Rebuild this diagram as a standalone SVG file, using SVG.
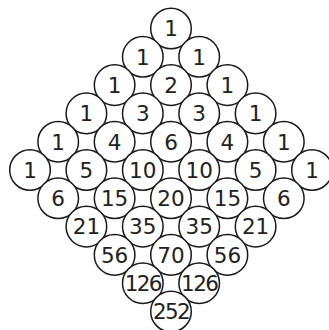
<svg xmlns="http://www.w3.org/2000/svg" width="329" height="330" viewBox="0 0 329 330">
<style>
.c{fill:#fff;stroke:#1a1a1a;stroke-width:1.5}
.t{font-family:"DejaVu Sans",sans-serif;font-size:21.5px;fill:#222;text-anchor:middle}
.w{letter-spacing:-1.6px}
</style>
<rect width="329" height="330" fill="#fff"/>
<g id="connectors"/>
<g id="n0-0"><circle class="c" cx="171" cy="28.5" r="20.3"/><text class="t" x="171" y="36.3">1</text></g>
<g id="n1-0"><circle class="c" cx="142.8" cy="56.8" r="20.3"/><text class="t" x="142.8" y="64.6">1</text></g>
<g id="n1-1"><circle class="c" cx="199.2" cy="56.8" r="20.3"/><text class="t" x="199.2" y="64.6">1</text></g>
<g id="n2-0"><circle class="c" cx="114.6" cy="85.1" r="20.3"/><text class="t" x="114.6" y="92.9">1</text></g>
<g id="n2-1"><circle class="c" cx="171" cy="85.1" r="20.3"/><text class="t" x="171" y="92.9">2</text></g>
<g id="n2-2"><circle class="c" cx="227.4" cy="85.1" r="20.3"/><text class="t" x="227.4" y="92.9">1</text></g>
<g id="n3-0"><circle class="c" cx="86.4" cy="113.4" r="20.3"/><text class="t" x="86.4" y="121.2">1</text></g>
<g id="n3-1"><circle class="c" cx="142.8" cy="113.4" r="20.3"/><text class="t" x="142.8" y="121.2">3</text></g>
<g id="n3-2"><circle class="c" cx="199.2" cy="113.4" r="20.3"/><text class="t" x="199.2" y="121.2">3</text></g>
<g id="n3-3"><circle class="c" cx="255.6" cy="113.4" r="20.3"/><text class="t" x="255.6" y="121.2">1</text></g>
<g id="n4-0"><circle class="c" cx="58.2" cy="141.7" r="20.3"/><text class="t" x="58.2" y="149.5">1</text></g>
<g id="n4-1"><circle class="c" cx="114.6" cy="141.7" r="20.3"/><text class="t" x="114.6" y="149.5">4</text></g>
<g id="n4-2"><circle class="c" cx="171" cy="141.7" r="20.3"/><text class="t" x="171" y="149.5">6</text></g>
<g id="n4-3"><circle class="c" cx="227.4" cy="141.7" r="20.3"/><text class="t" x="227.4" y="149.5">4</text></g>
<g id="n4-4"><circle class="c" cx="283.8" cy="141.7" r="20.3"/><text class="t" x="283.8" y="149.5">1</text></g>
<g id="n5-0"><circle class="c" cx="30" cy="170" r="20.3"/><text class="t" x="30" y="177.8">1</text></g>
<g id="n5-1"><circle class="c" cx="86.4" cy="170" r="20.3"/><text class="t" x="86.4" y="177.8">5</text></g>
<g id="n5-2"><circle class="c" cx="142.8" cy="170" r="20.3"/><text class="t" x="142.8" y="177.8">10</text></g>
<g id="n5-3"><circle class="c" cx="199.2" cy="170" r="20.3"/><text class="t" x="199.2" y="177.8">10</text></g>
<g id="n5-4"><circle class="c" cx="255.6" cy="170" r="20.3"/><text class="t" x="255.6" y="177.8">5</text></g>
<g id="n5-5"><circle class="c" cx="312" cy="170" r="20.3"/><text class="t" x="312" y="177.8">1</text></g>
<g id="n6-0"><circle class="c" cx="58.2" cy="198.3" r="20.3"/><text class="t" x="58.2" y="206.1">6</text></g>
<g id="n6-1"><circle class="c" cx="114.6" cy="198.3" r="20.3"/><text class="t" x="114.6" y="206.1">15</text></g>
<g id="n6-2"><circle class="c" cx="171" cy="198.3" r="20.3"/><text class="t" x="171" y="206.1">20</text></g>
<g id="n6-3"><circle class="c" cx="227.4" cy="198.3" r="20.3"/><text class="t" x="227.4" y="206.1">15</text></g>
<g id="n6-4"><circle class="c" cx="283.8" cy="198.3" r="20.3"/><text class="t" x="283.8" y="206.1">6</text></g>
<g id="n7-0"><circle class="c" cx="86.4" cy="226.6" r="20.3"/><text class="t" x="86.4" y="234.4">21</text></g>
<g id="n7-1"><circle class="c" cx="142.8" cy="226.6" r="20.3"/><text class="t" x="142.8" y="234.4">35</text></g>
<g id="n7-2"><circle class="c" cx="199.2" cy="226.6" r="20.3"/><text class="t" x="199.2" y="234.4">35</text></g>
<g id="n7-3"><circle class="c" cx="255.6" cy="226.6" r="20.3"/><text class="t" x="255.6" y="234.4">21</text></g>
<g id="n8-0"><circle class="c" cx="114.6" cy="254.9" r="20.3"/><text class="t" x="114.6" y="262.7">56</text></g>
<g id="n8-1"><circle class="c" cx="171" cy="254.9" r="20.3"/><text class="t" x="171" y="262.7">70</text></g>
<g id="n8-2"><circle class="c" cx="227.4" cy="254.9" r="20.3"/><text class="t" x="227.4" y="262.7">56</text></g>
<g id="n9-0"><circle class="c" cx="142.8" cy="283.2" r="20.3"/><text class="t w" x="142.8" y="291">126</text></g>
<g id="n9-1"><circle class="c" cx="199.2" cy="283.2" r="20.3"/><text class="t w" x="199.2" y="291">126</text></g>
<g id="n10-0"><circle class="c" cx="171" cy="311.5" r="20.3"/><text class="t w" x="171" y="319.3">252</text></g>
</svg>
